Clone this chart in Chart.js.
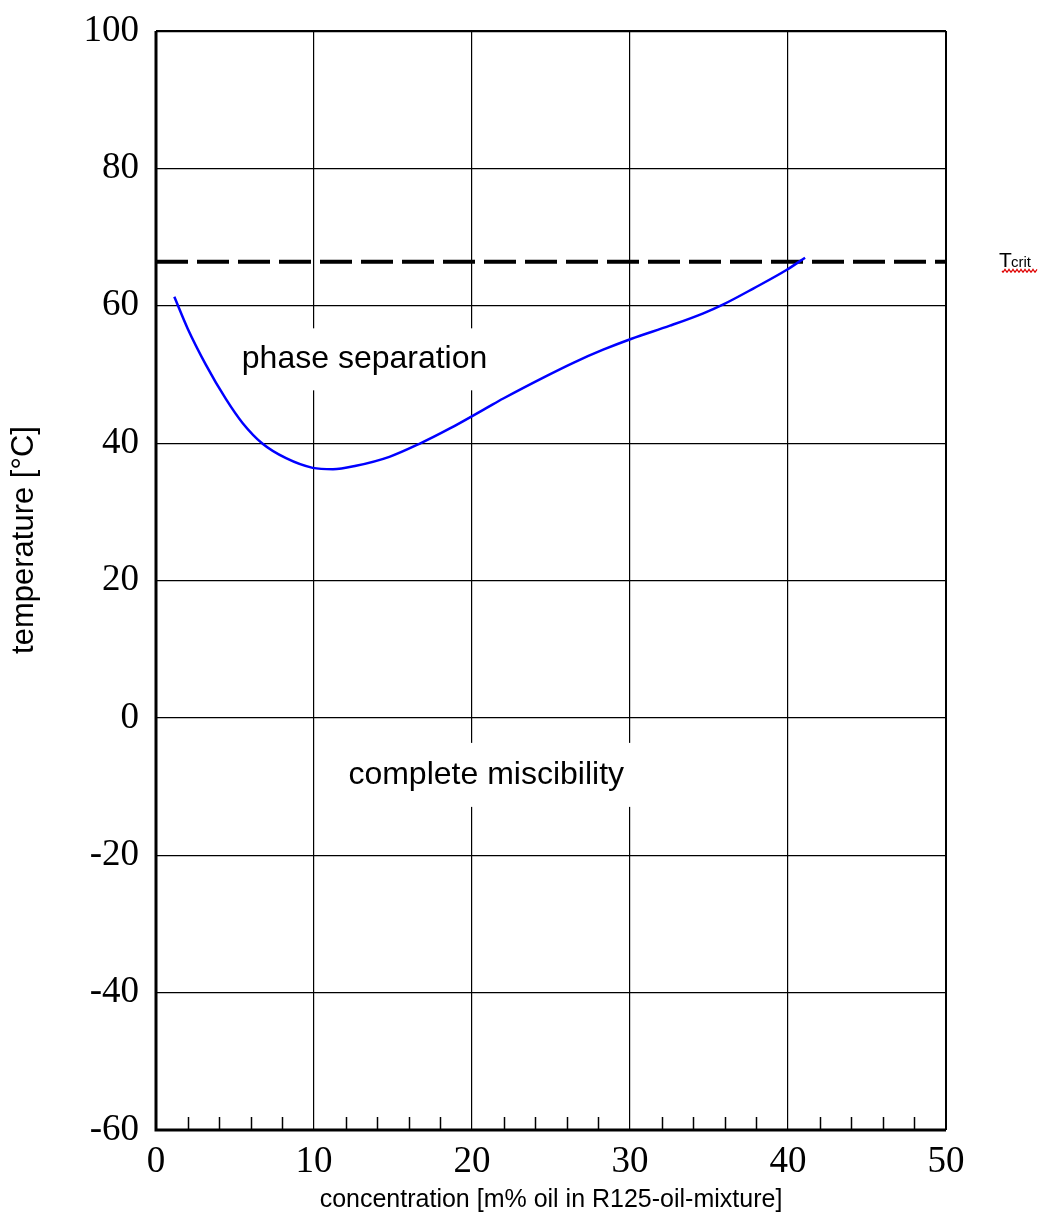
<!DOCTYPE html>
<html>
<head>
<meta charset="utf-8">
<script src="https://cdn.jsdelivr.net/npm/chart.js@4/dist/chart.umd.min.js"></script>
<style>
	html, body { margin: 0; padding: 0; background: #fff; }
	#wrap { width: 1043px; height: 1223px; }
</style>
</head>
<body>
<div id="wrap"><canvas id="chart1" width="1043" height="1223"></canvas></div>
<script>
// data
var concentration = [1.16, 2.0, 3.16, 4.43, 5.49, 6.75, 8.23, 9.92, 11.2, 12.66, 14.77, 16.67, 18.57, 20.9, 21.98, 24.73, 26.41, 28.3, 30.1, 32.53, 34.64, 35.91, 37.8, 39.9, 41.08];
var temperature   = [61.3, 56.7, 51.4, 46.4, 42.9, 39.9, 37.8, 36.4, 36.2, 36.7, 38.0, 39.9, 42.1, 45.1, 46.5, 49.8, 51.7, 53.6, 55.2, 57.1, 58.9, 60.2, 62.5, 65.2, 67.0];
var tCrit = 66.4;
var xTicks = [0, 10, 20, 30, 40, 50];
var yTicks = [100, 80, 60, 40, 20, 0, -20, -40, -60];
var minorTicks = [2, 4, 6, 8, 12, 14, 16, 18, 22, 24, 26, 28, 32, 34, 36, 38, 42, 44, 46, 48];

var serif = "'Liberation Serif', 'Times New Roman', serif";
var sans = "'Liberation Sans', Arial, sans-serif";

var curvePoints = concentration.map(function(c, i) { return { x: c, y: temperature[i] }; });

// extra drawing: frame, minor ticks, region labels, axis titles, Tcrit
var extras = {
	id: 'extras',
	afterDatasetsDraw: function(chart) {
		var ctx = chart.ctx;
		var a = chart.chartArea;
		var xs = chart.scales.x, ys = chart.scales.y;
		ctx.save();

		// minor ticks on the bottom axis
		ctx.strokeStyle = '#000';
		ctx.lineWidth = 1.5;
		minorTicks.forEach(function(v) {
			var px = Math.round(xs.getPixelForValue(v)) + 0.5;
			ctx.beginPath();
			ctx.moveTo(px, a.bottom);
			ctx.lineTo(px, a.bottom - 13);
			ctx.stroke();
		});

		// region labels on white boxes
		function boxLabel(text, xv, yv, padX, halfH) {
			ctx.font = '32px ' + sans;
			var w = ctx.measureText(text).width;
			var cx = xs.getPixelForValue(xv), cy = ys.getPixelForValue(yv);
			ctx.fillStyle = '#fff';
			ctx.fillRect(cx - w / 2 - padX, cy - halfH, w + 2 * padX, 2 * halfH);
			ctx.fillStyle = '#000';
			ctx.textAlign = 'center';
			ctx.textBaseline = 'middle';
			ctx.fillText(text, cx, cy);
		}
		boxLabel('phase separation', 13.2, 52.2, 10, 31);
		boxLabel('complete miscibility', 20.9, -8.3, 12, 32);

		// axis titles
		ctx.fillStyle = '#000';
		ctx.textAlign = 'center';
		ctx.textBaseline = 'middle';
		ctx.font = '25px ' + sans;
		ctx.fillText('concentration [m% oil in R125-oil-mixture]', 551, 1200);
		ctx.save();
		ctx.translate(24, 540);
		ctx.rotate(-Math.PI / 2);
		ctx.font = '31px ' + sans;
		ctx.fillText('temperature [°C]', 0, 0);
		ctx.restore();

		// Tcrit label
		var ty = ys.getPixelForValue(tCrit);
		ctx.textAlign = 'left';
		ctx.textBaseline = 'alphabetic';
		ctx.font = '21px ' + sans;
		ctx.fillText('T', 999, ty + 5);
		ctx.font = '15px ' + sans;
		ctx.fillText('crit', 1011, ty + 5);
		// red wavy underline
		ctx.strokeStyle = '#e00000';
		ctx.lineWidth = 1.2;
		ctx.beginPath();
		for (var x = 1002; x <= 1037; x += 1) {
			var yy = ty + 9 + Math.sin((x - 1002) * Math.PI / 2) * 1.4;
			if (x === 1002) ctx.moveTo(x, yy); else ctx.lineTo(x, yy);
		}
		ctx.stroke();

		// frame
		ctx.strokeStyle = '#000';
		ctx.lineWidth = 1.5;
		ctx.beginPath();
		ctx.moveTo(a.left, a.top + 0.5);
		ctx.lineTo(a.right, a.top + 0.5);
		ctx.stroke();
		ctx.lineWidth = 2;
		ctx.beginPath();
		ctx.moveTo(a.right, a.top);
		ctx.lineTo(a.right, a.bottom);
		ctx.stroke();
		ctx.lineWidth = 3;
		ctx.beginPath();
		ctx.moveTo(a.left, a.top);
		ctx.lineTo(a.left, a.bottom);
		ctx.lineTo(a.right, a.bottom);
		ctx.stroke();
		ctx.restore();
	}
};

(function() {
	var canvas = document.getElementById('chart1').getContext('2d');
	new Chart(canvas, {
		type: 'scatter',
		data: {
			datasets: [{
				label: 'miscibility limit',
				data: curvePoints,
				showLine: true,
				borderColor: '#0000ff',
				borderWidth: 2.5,
				pointRadius: 0,
				cubicInterpolationMode: 'monotone',
				fill: false
			}, {
				label: 'Tcrit',
				data: [{ x: 0, y: tCrit }, { x: 50, y: tCrit }],
				showLine: true,
				borderColor: '#000',
				borderWidth: 4,
				borderDash: [32, 9],
				pointRadius: 0,
				fill: false
			}]
		},
		options: {
			responsive: false,
			animation: false,
			layout: { padding: { left: 0, top: 31, right: 97, bottom: 0 } },
			plugins: {
				legend: { display: false },
				tooltip: { enabled: false }
			},
			scales: {
				x: {
					type: 'linear',
					min: 0,
					max: 50,
					afterFit: function(scale) {
						scale.height = 93;
						scale.paddingLeft = 0;
						scale.paddingRight = 0;
					},
					afterBuildTicks: function(scale) {
						scale.ticks = xTicks.map(function(v) { return { value: v }; });
					},
					grid: { color: '#000', lineWidth: 1.2, drawTicks: false },
					border: { display: false },
					ticks: {
						color: '#000',
						padding: 10,
						font: { family: serif, size: 37 }
					}
				},
				y: {
					type: 'linear',
					min: -60,
					max: 100,
					afterFit: function(scale) {
						scale.width = 156;
						scale.paddingTop = 0;
						scale.paddingBottom = 0;
					},
					afterBuildTicks: function(scale) {
						scale.ticks = yTicks.map(function(v) { return { value: v }; });
					},
					grid: { color: '#000', lineWidth: 1.2, drawTicks: false },
					border: { display: false },
					ticks: {
						color: '#000',
						padding: 17,
						font: { family: serif, size: 37 },
						callback: function(v) { return String(v); }
					}
				}
			}
		},
		plugins: [extras]
	});
})();
</script>
</body>
</html>
